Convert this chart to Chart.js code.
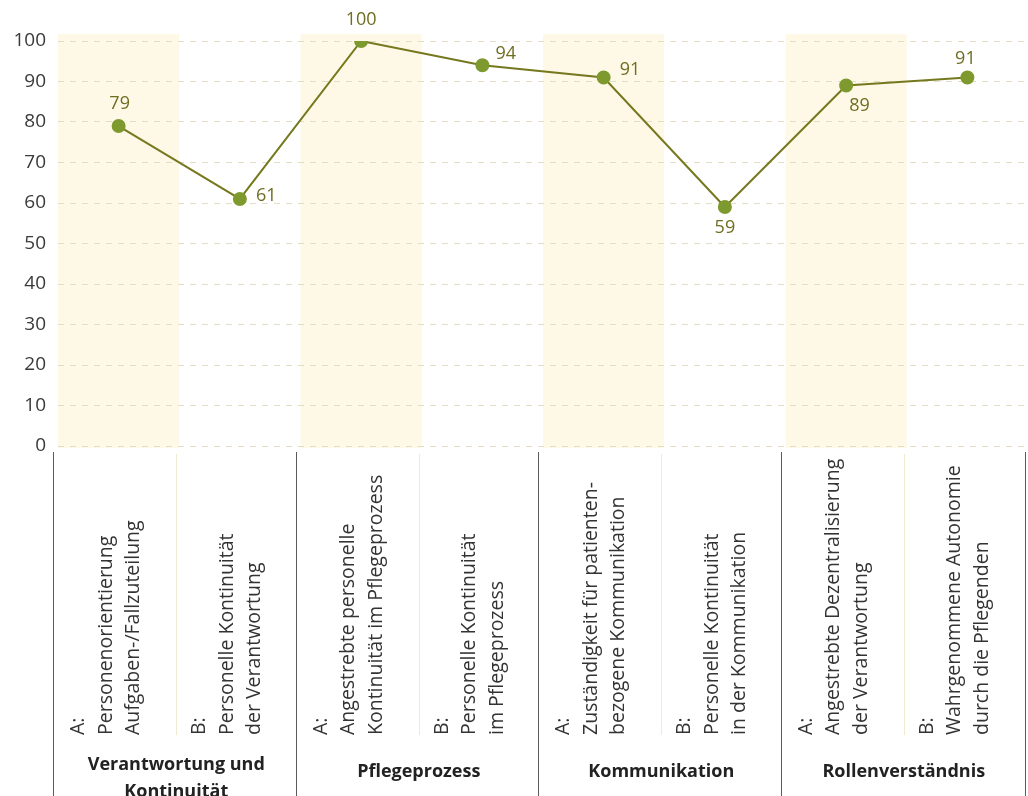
<!DOCTYPE html>
<html>
<head>
<meta charset="utf-8">
<script src="https://cdn.jsdelivr.net/npm/chart.js@4.4.1/dist/chart.umd.min.js"></script>
<style>
  html, body { margin: 0; padding: 0; background: #fff; }
  #wrap { width: 1028px; height: 796px; position: relative; }
</style>
</head>
<body>
<div id="wrap"><canvas id="chart"></canvas></div>
<script>
// values
var values = [79, 61, 100, 94, 91, 59, 89, 91];
var prefixes = ['A:', 'B:', 'A:', 'B:', 'A:', 'B:', 'A:', 'B:'];
var categories = [
    ['Personenorientierung', 'Aufgaben-/Fallzuteilung'],
    ['Personelle Kontinuität', 'der Verantwortung'],
    ['Angestrebte personelle', 'Kontinuität im Pflegeprozess'],
    ['Personelle Kontinuität', 'im Pflegeprozess'],
    ['Zuständigkeit für patienten-', 'bezogene Kommunikation'],
    ['Personelle Kontinuität', 'in der Kommunikation'],
    ['Angestrebte Dezentralisierung', 'der Verantwortung'],
    ['Wahrgenommene Autonomie', 'durch die Pflegenden']
];
var groups = [
    ['Verantwortung und', 'Kontinuität'],
    ['Pflegeprozess'],
    ['Kommunikation'],
    ['Rollenverständnis']
];
var yMin = 0, yMax = 100, yStep = 10;

// where each value label sits relative to its point (dx, dy, align)
var labelPos = [
    [1, -22, 'center'], [16, -3, 'left'], [0, -21, 'center'], [13, -11, 'left'],
    [16, -8, 'left'], [0, 21, 'center'], [3, 20, 'left'], [-2, -19, 'center']
];

var FONT = '"Open Sans", sans-serif';
var bandColor = '#fef9e6';

var decorPlugin = {
    id: 'decor',
    beforeDraw: function (chart) {
        var c = chart.ctx, x = chart.scales.x, a = chart.chartArea;
        var w = x.getPixelForValue(1) - x.getPixelForValue(0);
        c.save();
        c.fillStyle = bandColor;
        for (var i = 0; i < values.length; i += 2) {
            var px = x.getPixelForValue(i);
            c.fillRect(px - w / 2, a.top - 7, w, a.bottom - a.top + 9);
        }
        c.restore();
    },
    afterDatasetsDraw: function (chart) {
        var c = chart.ctx, meta = chart.getDatasetMeta(0);
        c.save();
        c.font = '18px ' + FONT;
        c.fillStyle = '#6f6d22';
        c.textBaseline = 'middle';
        meta.data.forEach(function (pt, i) {
            var p = labelPos[i];
            c.textAlign = p[2];
            c.fillText(String(values[i]), pt.x + p[0], pt.y + p[1]);
        });
        c.restore();
    },
    afterDraw: function (chart) {
        var c = chart.ctx, x = chart.scales.x, a = chart.chartArea;
        var w = x.getPixelForValue(1) - x.getPixelForValue(0);
        var H = chart.height;
        c.save();
        // light divider between A and B columns
        c.strokeStyle = '#f0ead2';
        c.lineWidth = 1;
        for (var g = 0; g < groups.length; g++) {
            var mid = Math.round(x.getPixelForValue(g * 2) + w / 2) - 2.5;
            c.beginPath(); c.moveTo(mid, a.bottom + 8); c.lineTo(mid, 735); c.stroke();
        }
        // group separators
        c.strokeStyle = '#5a5a5a';
        for (var k = 0; k <= groups.length; k++) {
            var sx = Math.round(x.getPixelForValue(k * 2) - w / 2) - 4.5;
            if (k === groups.length) sx = chart.width - 2.5;
            c.beginPath(); c.moveTo(sx, a.bottom + 6); c.lineTo(sx, H); c.stroke();
        }
        // rotated category labels
        c.fillStyle = '#333';
        c.font = '19.5px ' + FONT;
        c.textAlign = 'left';
        c.textBaseline = 'middle';
        for (var i = 0; i < categories.length; i++) {
            var cx = x.getPixelForValue(i);
            var lines = [prefixes[i]].concat(categories[i]);
            for (var j = 0; j < lines.length; j++) {
                c.save();
                c.translate(cx - 40 + j * 27.5, 735);
                c.rotate(-Math.PI / 2);
                c.fillText(lines[j], 0, 0);
                c.restore();
            }
        }
        // group labels
        c.font = 'bold 18px ' + FONT;
        c.textAlign = 'center';
        c.fillStyle = '#222';
        for (var g2 = 0; g2 < groups.length; g2++) {
            var gx = x.getPixelForValue(g2 * 2) + w / 2 - 3;
            var gl = groups[g2];
            if (gl.length === 1) {
                c.fillText(gl[0], gx, 772);
            } else {
                c.fillText(gl[0], gx, 765);
                c.fillText(gl[1], gx, 792);
            }
        }
        c.restore();
    }
};

new Chart(document.getElementById('chart'), {
    type: 'line',
    data: {
        labels: categories,
        datasets: [{
            data: values,
            borderColor: '#76781e',
            borderWidth: 2,
            pointBackgroundColor: '#7e9a2f',
            pointBorderColor: '#7e9a2f',
            pointRadius: 6,
            tension: 0
        }]
    },
    options: {
        responsive: true,
        maintainAspectRatio: false,
        animation: false,
        layout: { autoPadding: false, padding: { top: 41, bottom: 350, left: 0, right: 0 } },
        plugins: {
            legend: { display: false },
            tooltip: { enabled: false }
        },
        scales: {
            x: {
                type: 'category',
                offset: true,
                display: false
            },
            y: {
                min: yMin,
                max: yMax,
                ticks: {
                    stepSize: yStep,
                    color: '#3a3a3a',
                    font: { family: FONT, size: 19 },
                    padding: 12
                },
                grid: { color: '#e3ddc6', drawTicks: false },
                border: { display: false, dash: [6, 6] },
                afterFit: function (scale) { scale.width = 58; }
            }
        }
    },
    plugins: [decorPlugin]
});
</script>
</body>
</html>
